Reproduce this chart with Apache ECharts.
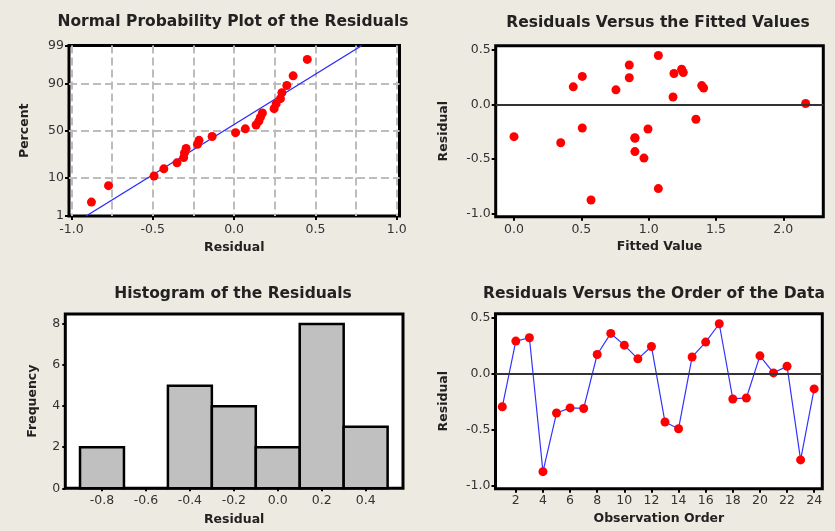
<!DOCTYPE html>
<html>
<head>
<meta charset="utf-8">
<script src="https://cdn.jsdelivr.net/npm/echarts@6/dist/echarts.min.js"></script>
<style>
  html, body { margin: 0; padding: 0; background: #EDEAE1; }
  #chart { width: 835px; height: 531px; }
</style>
</head>
<body>
<div id="chart"></div>
<script>
// Residuals of the fitted model, in observation order
const observationOrder = [1, 2, 3, 4, 5, 6, 7, 8, 9, 10, 11, 12, 13, 14, 15, 16, 17, 18, 19, 20, 21, 22, 23, 24];
const residuals = [-0.295, 0.294, 0.324, -0.877, -0.351, -0.305, -0.310, 0.174, 0.363, 0.258, 0.135, 0.246,
                   -0.432, -0.492, 0.152, 0.285, 0.450, -0.225, -0.216, 0.162, 0.009, 0.069, -0.772, -0.135];
// Fitted value for each observation
const fittedValues = [0.000, 1.257, 1.245, 0.572, 0.347, 0.898, 0.898, 1.394, 0.856, 0.507, 0.757, 0.856,
                      0.898, 0.965, 1.408, 1.188, 1.072, 0.995, 0.507, 0.440, 2.166, 1.181, 1.072, 1.351];
// Histogram of the residuals
const histBinCenters = [-0.8, -0.6, -0.4, -0.2, 0.0, 0.2, 0.4];
const histCounts = [2, 0, 5, 4, 2, 8, 3];
const histBinWidth = 0.2;
// Tick values
const probPercentTicks = [1, 10, 50, 90, 99];
const probResidualTicks = [-1.0, -0.5, 0.0, 0.5, 1.0];
const probResidualGrid = [-1.0, -0.75, -0.5, -0.25, 0.0, 0.25, 0.5, 0.75, 1.0];
const residualTicks = [-1.0, -0.5, 0.0, 0.5];
const fittedTicks = [0.0, 0.5, 1.0, 1.5, 2.0];
const histXTicks = [-0.8, -0.6, -0.4, -0.2, 0.0, 0.2, 0.4];
const histYTicks = [0, 2, 4, 6, 8];
const orderTicks = [2, 4, 6, 8, 10, 12, 14, 16, 18, 20, 22, 24];

// Inverse standard normal CDF (Acklam's rational approximation)
function normInv(p) {
  const a = [-3.969683028665376e+01, 2.209460984245205e+02, -2.759285104469687e+02, 1.383577518672690e+02, -3.066479806614716e+01, 2.506628277459239e+00];
  const b = [-5.447609879822406e+01, 1.615858368580409e+02, -1.556989798598866e+02, 6.680131188771972e+01, -1.328068155288572e+01];
  const c = [-7.784894002430293e-03, -3.223964580411365e-01, -2.400758277161838e+00, -2.549732539343734e+00, 4.374664141464968e+00, 2.938163982531036e+00];
  const d = [7.784695709041462e-03, 3.224671290700398e-01, 2.445134137142996e+00, 3.754408661907416e+00];
  const pl = 0.02425, ph = 1 - pl;
  let q, r;
  if (p < pl) {
    q = Math.sqrt(-2 * Math.log(p));
    return (((((c[0]*q+c[1])*q+c[2])*q+c[3])*q+c[4])*q+c[5]) / ((((d[0]*q+d[1])*q+d[2])*q+d[3])*q+1);
  }
  if (p <= ph) {
    q = p - 0.5; r = q * q;
    return (((((a[0]*r+a[1])*r+a[2])*r+a[3])*r+a[4])*r+a[5])*q / (((((b[0]*r+b[1])*r+b[2])*r+b[3])*r+b[4])*r+1);
  }
  q = Math.sqrt(-2 * Math.log(1 - p));
  return -(((((c[0]*q+c[1])*q+c[2])*q+c[3])*q+c[4])*q+c[5]) / ((((d[0]*q+d[1])*q+d[2])*q+d[3])*q+1);
}

// Normal scores (Blom plotting positions) for the sorted residuals
const n = residuals.length;
const sortedResiduals = residuals.slice().sort((x, y) => x - y);
const normalPoints = sortedResiduals.map((r, i) => [r, normInv((i + 1 - 0.375) / (n + 0.25))]);
const mean = residuals.reduce((s, v) => s + v, 0) / n;
const sd = Math.sqrt(residuals.reduce((s, v) => s + (v - mean) * (v - mean), 0) / (n - 1));
const zLo = normInv(probPercentTicks[0] / 100);
const zHi = normInv(probPercentTicks[probPercentTicks.length - 1] / 100);
const zTicks = probPercentTicks.map(p => normInv(p / 100));
const fitLine = [[mean + zLo * sd, zLo], [mean + zHi * sd, zHi]];

const FONT = 'DejaVu Sans';
const hiddenAxisLine = { show: false, onZero: false };
const tickLabel = (vals, fmt, margin) => ({
  customValues: vals, color: '#333', fontFamily: FONT, fontSize: 12.5, margin: margin, formatter: fmt
});
const tickMark = (vals, len) => ({
  show: true, customValues: vals, length: len, lineStyle: { color: '#000', width: 2 }
});
const nameText = { color: '#222', fontFamily: FONT, fontSize: 12.5, fontWeight: 'bold' };
const fix1 = v => Number(v).toFixed(1);
const zeroLine = {
  silent: true, symbol: ['none', 'none'], label: { show: false },
  lineStyle: { color: '#333', width: 2, type: 'solid' },
  emphasis: { disabled: true },
  data: [{ yAxis: 0 }]
};
const dotStyle = { color: '#FF0000', opacity: 1, borderWidth: 0 };
const panelTitle = (text, x, y) => ({
  text: text, left: x, top: y, textAlign: 'center', padding: 0,
  textStyle: { fontFamily: FONT, fontSize: 15.5, fontWeight: 'bold', color: '#222' }
});
const gridBox = (left, top, width, height) => ({
  left: left, top: top, width: width, height: height,
  show: true, backgroundColor: '#fff', borderColor: '#000', borderWidth: 3
});

const option = {
  backgroundColor: '#EDEAE1',
  animation: false,
  title: [
    panelTitle('Normal Probability Plot of the Residuals', 233, 14),
    panelTitle('Residuals Versus the Fitted Values', 658, 15),
    panelTitle('Histogram of the Residuals', 233, 286),
    panelTitle('Residuals Versus the Order of the Data', 654, 286)
  ],
  grid: [
    gridBox(69, 45.5, 330.5, 170.5),
    gridBox(495.7, 45.7, 327.6, 171),
    gridBox(65.3, 314, 337.7, 174.3),
    gridBox(495.5, 313.7, 326.8, 175)
  ],
  xAxis: [
    { // normal probability plot: residual scale
      gridIndex: 0, type: 'value', min: -1.015, max: 1.017, position: 'bottom',
      axisLine: hiddenAxisLine,
      axisTick: tickMark(probResidualTicks, 4),
      axisLabel: tickLabel(probResidualTicks, fix1, 7),
      splitLine: { show: false },
      name: 'Residual', nameLocation: 'middle', nameGap: 25, nameTextStyle: nameText
    },
    { // dashed reference grid of the probability plot
      gridIndex: 0, type: 'value', min: -1.015, max: 1.017, position: 'top',
      axisLine: hiddenAxisLine,
      axisTick: { show: false, customValues: probResidualGrid },
      axisLabel: { show: false },
      splitLine: { show: true, lineStyle: { color: '#BDBDBD', width: 2, type: [8, 4] } }
    },
    { // fitted values
      gridIndex: 1, type: 'value', min: -0.136, max: 2.297,
      axisLine: hiddenAxisLine,
      axisTick: tickMark(fittedTicks, 4),
      axisLabel: tickLabel(fittedTicks, fix1, 7),
      splitLine: { show: false },
      name: 'Fitted Value', nameLocation: 'middle', nameGap: 24, nameTextStyle: nameText
    },
    { // histogram residual bins
      gridIndex: 2, type: 'value', min: -0.967, max: 0.57,
      axisLine: hiddenAxisLine,
      axisTick: tickMark(histXTicks, 3),
      axisLabel: tickLabel(histXTicks, fix1, 6),
      splitLine: { show: false },
      name: 'Residual', nameLocation: 'middle', nameGap: 25, nameTextStyle: nameText
    },
    { // observation order
      gridIndex: 3, type: 'value', min: 0.5, max: 24.6,
      axisLine: hiddenAxisLine,
      axisTick: tickMark(orderTicks, 4),
      axisLabel: tickLabel(orderTicks, v => String(v), 6),
      splitLine: { show: false },
      name: 'Observation Order', nameLocation: 'middle', nameGap: 24, nameTextStyle: nameText
    }
  ],
  yAxis: [
    { // percent on a normal-probability scale
      gridIndex: 0, type: 'value', min: zLo, max: zHi,
      axisLine: hiddenAxisLine,
      axisTick: tickMark(zTicks, 4),
      axisLabel: tickLabel(zTicks, v => {
        let best = 0;
        zTicks.forEach((z, i) => { if (Math.abs(z - v) < Math.abs(zTicks[best] - v)) best = i; });
        return String(probPercentTicks[best]);
      }, 5),
      splitLine: { show: true, showMinLine: false, showMaxLine: false,
                   lineStyle: { color: '#BDBDBD', width: 2, type: [8, 4] } },
      name: 'Percent', nameLocation: 'middle', nameGap: 38, nameTextStyle: nameText
    },
    {
      gridIndex: 1, type: 'value', min: -1.03, max: 0.54,
      axisLine: hiddenAxisLine,
      axisTick: tickMark(residualTicks, 4),
      axisLabel: tickLabel(residualTicks, fix1, 5),
      splitLine: { show: false },
      name: 'Residual', nameLocation: 'middle', nameGap: 45, nameTextStyle: nameText
    },
    {
      gridIndex: 2, type: 'value', min: 0, max: 8.49,
      axisLine: hiddenAxisLine,
      axisTick: tickMark(histYTicks, 3),
      axisLabel: tickLabel(histYTicks, v => String(v), 5),
      splitLine: { show: false },
      name: 'Frequency', nameLocation: 'middle', nameGap: 26, nameTextStyle: nameText
    },
    {
      gridIndex: 3, type: 'value', min: -1.03, max: 0.54,
      axisLine: hiddenAxisLine,
      axisTick: tickMark(residualTicks, 4),
      axisLabel: tickLabel(residualTicks, fix1, 5),
      splitLine: { show: false },
      name: 'Residual', nameLocation: 'middle', nameGap: 45, nameTextStyle: nameText
    }
  ],
  series: [
    {
      type: 'line', xAxisIndex: 0, yAxisIndex: 0, data: fitLine,
      showSymbol: false, silent: true, z: 2,
      lineStyle: { color: '#2B2BFF', width: 1.4 }
    },
    {
      type: 'scatter', xAxisIndex: 0, yAxisIndex: 0, data: normalPoints,
      symbol: 'circle', symbolSize: 9, z: 3,
      itemStyle: dotStyle
    },
    {
      type: 'scatter', xAxisIndex: 2, yAxisIndex: 1,
      data: fittedValues.map((f, i) => [f, residuals[i]]),
      symbol: 'circle', symbolSize: 9, z: 3,
      itemStyle: dotStyle,
      markLine: zeroLine
    },
    {
      type: 'custom', xAxisIndex: 3, yAxisIndex: 2,
      data: histBinCenters.map((c, i) => [c - histBinWidth / 2, c + histBinWidth / 2, histCounts[i]]),
      encode: { x: [0, 1], y: 2 },
      renderItem: (params, api) => {
        const top = api.coord([api.value(0), api.value(2)]);
        const base = api.coord([api.value(1), 0]);
        return {
          type: 'rect',
          shape: { x: top[0], y: top[1], width: base[0] - top[0], height: base[1] - top[1] },
          style: { fill: '#C0C0C0', stroke: '#000', lineWidth: 2.5 }
        };
      }
    },
    {
      type: 'line', xAxisIndex: 4, yAxisIndex: 3,
      data: observationOrder.map((o, i) => [o, residuals[i]]),
      symbol: 'circle', symbolSize: 9, showSymbol: true, z: 3,
      lineStyle: { color: '#3333FF', width: 1.2 },
      itemStyle: dotStyle,
      markLine: zeroLine
    }
  ]
};

const chart = echarts.init(document.getElementById('chart'), null, { renderer: 'canvas' });
chart.setOption(option);
</script>
</body>
</html>
